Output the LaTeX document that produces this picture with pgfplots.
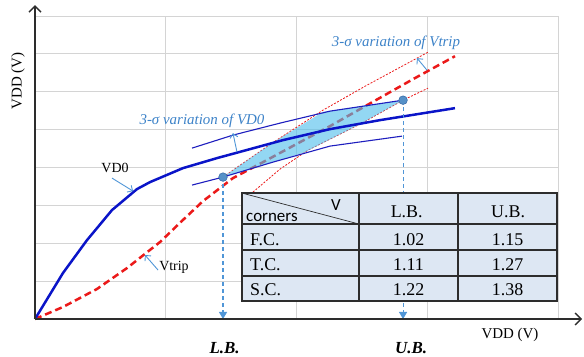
\documentclass[border=0pt]{standalone}
\usepackage{fontspec}
\setmainfont{Liberation Serif}
\newfontfamily\calibri{Carlito}
\usepackage{pgfplots}
\pgfplotsset{compat=1.18}
\usetikzlibrary{arrows.meta}

\definecolor{gridgray}{RGB}{212,212,212}
\definecolor{vdblue}{RGB}{10,20,200}
\definecolor{varblue}{RGB}{30,30,190}
\definecolor{tripred}{RGB}{235,25,25}
\definecolor{notecol}{RGB}{60,130,200}
\definecolor{arrowcol}{RGB}{80,150,215}
\definecolor{fillblue}{RGB}{80,190,235}
\definecolor{tabfill}{RGB}{221,231,243}
\definecolor{tabline}{RGB}{45,45,45}
\definecolor{dotfill}{RGB}{85,145,200}
\definecolor{dotedge}{RGB}{60,110,170}

\begin{document}
\begin{tikzpicture}
\path[use as bounding box] (-35bp,-38bp) rectangle (549bp,319bp);
\begin{axis}[
  at={(0,0)}, anchor=south west,
  scale only axis, width=523bp, height=303bp,
  xmin=0, xmax=4, ymin=0, ymax=8,
  xtick={0,...,4}, ytick={0,...,8},
  xticklabels={}, yticklabels={},
  major tick length=0pt,
  grid=major, grid style={gridgray, line width=0.9bp},
  axis lines=left,
  axis line style={draw=none},
  clip=false,
]
% 3-sigma band of Vtrip (thin dotted)
\addplot[tripred, line width=0.8bp, dash pattern=on 2bp off 1.5bp] coordinates {
  (1.438,3.747) (1.813,4.644) (2.203,5.515) (2.539,6.174) (3.006,7.045)};
\addplot[tripred, line width=0.8bp, dash pattern=on 2bp off 1.5bp] coordinates {
  (1.667,3.351) (1.874,3.958) (2.088,4.459) (2.486,5.145) (2.815,5.778) (3.006,6.095)};
% Vtrip
\addplot[tripred, line width=2.5bp, dash pattern=on 7bp off 4bp] coordinates {
  (0,0) (0.214,0.317) (0.474,0.792) (0.704,1.346) (0.956,2.032) (1.147,2.665)
  (1.285,3.113) (1.514,3.720) (1.744,4.142) (2.027,4.670) (2.256,5.092)
  (2.539,5.646) (2.891,6.332) (3.212,6.939)};
% overlap region of the two bands
\addplot[draw=none, fill=fillblue, fill opacity=0.62] coordinates {
  (1.438,3.747) (1.813,4.644) (2.203,5.47) (2.815,5.778) (2.486,5.145)
  (2.065,4.406) (1.82,4.142)} -- cycle;
% 3-sigma band of VD0
\addplot[varblue, line width=1.1bp] coordinates {
  (1.201,4.512) (1.514,4.855) (1.874,5.172) (2.256,5.488) (2.815,5.778)};
\addplot[varblue, line width=1.1bp] coordinates {
  (1.201,3.536) (1.438,3.747) (1.82,4.142) (2.256,4.565) (2.807,4.828)};
% VD0
\addplot[vdblue, line width=2.5bp] coordinates {
  (0,0) (0.214,1.214) (0.398,2.084) (0.589,2.876) (0.780,3.430) (0.880,3.615)
  (1.132,3.984) (1.392,4.248) (1.644,4.485) (1.897,4.723) (2.256,5.013)
  (2.639,5.251) (3.212,5.567)};
% projections of the bounds onto the VDD axis
\addplot[arrowcol, line width=1.1bp, dash pattern=on 4bp off 3bp,
  -{Triangle[length=7bp,width=8bp]}] coordinates {(1.438,3.747) (1.438,0)};
\addplot[arrowcol, line width=1.1bp, dash pattern=on 4bp off 3bp,
  -{Triangle[length=7bp,width=8bp]}] coordinates {(2.815,5.778) (2.815,0)};
\addplot[only marks, mark=*, mark size=4.3bp, mark options={fill=dotfill, draw=dotedge, line width=0.6bp}]
  coordinates {(1.438,3.747) (2.815,5.778)};

% annotations
\tikzset{note/.style={arrowcol, line width=0.9bp, -{Straight Barb[length=4bp,width=8bp]}}}
\draw[note] (axis cs:0.589,3.720) -- (axis cs:0.75,3.377);
\draw[note] (axis cs:0.941,1.293) -- (axis cs:0.841,1.689);
\draw[note] (axis cs:1.545,4.406) -- (axis cs:1.514,4.908);
\draw[note] (axis cs:2.998,6.570) -- (axis cs:2.922,6.887);
\node[font=\fontsize{14}{16}\selectfont] at (axis cs:0.612,3.984) {VD0};
\node[font=\fontsize{14}{16}\selectfont] at (axis cs:1.063,1.372) {Vtrip};
\node[notecol, font=\fontsize{15}{18}\selectfont\itshape] at (axis cs:1.277,5.224) {3-σ variation of VD0};
\node[notecol, font=\fontsize{15}{18}\selectfont\itshape] at (axis cs:2.761,7.282) {3-σ variation of Vtrip};

% axis labels and bound labels
\node[rotate=90, font=\fontsize{15}{18}\selectfont] at (axis cs:-0.13,6.28) {VDD (V)};
\node[font=\fontsize{15}{18}\selectfont] at (axis cs:3.633,-0.42) {VDD (V)};
\node[font=\fontsize{17}{20}\selectfont\bfseries\itshape] at (axis cs:1.45,-0.765) {L.B.};
\node[font=\fontsize{17}{20}\selectfont\bfseries\itshape] at (axis cs:2.876,-0.765) {U.B.};

% table of bounds per corner
\filldraw[fill=tabfill, draw=tabline, line width=1.2bp] (axis cs:1.583,0.475) rectangle (axis cs:3.992,3.325);
\draw[tabline, line width=1.2bp]
  (axis cs:1.583,2.507) -- (axis cs:3.992,2.507)
  (axis cs:1.583,1.821) -- (axis cs:3.992,1.821)
  (axis cs:1.583,1.135) -- (axis cs:3.992,1.135)
  (axis cs:2.478,0.475) -- (axis cs:2.478,3.325)
  (axis cs:3.235,0.475) -- (axis cs:3.235,3.325);
\draw[tabline, line width=0.7bp] (axis cs:1.583,3.325) -- (axis cs:2.478,2.507);
\node[anchor=base, font=\calibri\fontsize{17}{20}\selectfont] at (axis cs:2.302,2.876) {V};
\node[anchor=base west, inner sep=0pt, font=\calibri\fontsize{17}{20}\selectfont] at (axis cs:1.614,2.586) {corners};
\tikzset{cell/.style={anchor=base, font=\fontsize{18}{20}\selectfont}}
\node[cell] at (axis cs:2.843,2.673) {L.B.};
\node[cell] at (axis cs:3.618,2.673) {U.B.};
\node[cell, anchor=base west, inner sep=0pt] at (axis cs:1.644,1.953) {F.C.};
\node[cell, anchor=base west, inner sep=0pt] at (axis cs:1.644,1.274) {T.C.};
\node[cell, anchor=base west, inner sep=0pt] at (axis cs:1.644,0.615) {S.C.};
\node[cell] at (axis cs:2.857,1.953) {1.02};
\node[cell] at (axis cs:3.614,1.953) {1.15};
\node[cell] at (axis cs:2.857,1.274) {1.11};
\node[cell] at (axis cs:3.614,1.274) {1.27};
\node[cell] at (axis cs:2.857,0.615) {1.22};
\node[cell] at (axis cs:3.614,0.615) {1.38};

% coordinate axes with open arrowheads
\draw[tabline, line width=1.3bp, -{Straight Barb[length=6bp,width=12bp]}] (axis cs:0,0) -- (axis cs:4.184,0);
\draw[tabline, line width=1.3bp, -{Straight Barb[length=6bp,width=12bp]}] (axis cs:0,0) -- (axis cs:0,8.285);
\end{axis}
\end{tikzpicture}
\end{document}
